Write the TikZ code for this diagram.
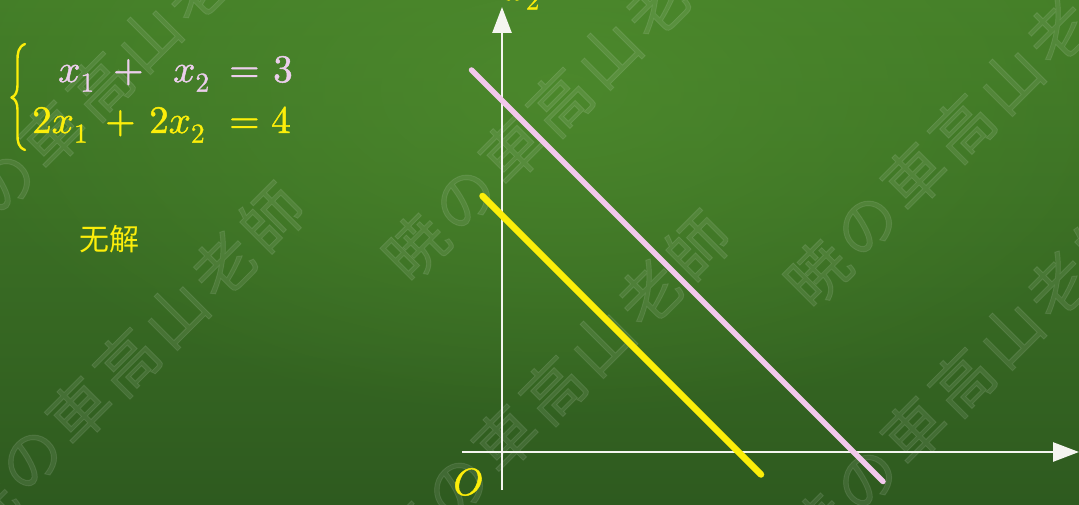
\documentclass[tikz,border=0pt]{standalone}
\usepackage{fontspec}
\usepackage{unicode-math}
\setmathfont{latinmodern-math.otf}[FakeBold=1.2]
\usetikzlibrary{arrows.meta,fadings}
\newfontfamily\cjkfont{Noto Sans CJK SC}
\newfontfamily\wmfont{Noto Sans CJK JP}[LetterSpace=10,FakeBold=1.5]
\definecolor{bgtop}{RGB}{68,126,40}
\definecolor{bgbot}{RGB}{46,90,31}
\definecolor{glow}{RGB}{80,142,46}
\definecolor{axiswhite}{RGB}{245,245,240}
\definecolor{pinkline}{RGB}{242,200,236}
\definecolor{pinktext}{RGB}{236,206,236}
\definecolor{chalkyellow}{RGB}{252,238,10}
\tikzfading[name=softglow, inner color=transparent!0, outer color=transparent!100]
\begin{document}
\begin{tikzpicture}[x=1pt,y=-1pt,
  axis/.style={draw=axiswhite, line width=2.7pt, -{Triangle[length=26pt,width=19pt]}},
  plotA/.style={draw=pinkline, line width=5.5pt, line cap=round},
  plotB/.style={draw=chalkyellow, line width=6.5pt, line cap=round},
  eqrow1/.style={anchor=base west, inner sep=0, text=pinktext, font=\fontsize{39}{39}\selectfont},
  eqrow2/.style={anchor=base west, inner sep=0, text=chalkyellow, font=\fontsize{39}{39}\selectfont},
  lab/.style={inner sep=0, text=chalkyellow, font=\fontsize{38}{38}\selectfont},
  cn/.style={inner sep=0, text=chalkyellow, font=\cjkfont\fontsize{30}{30}\selectfont},
  wm/.style={inner sep=0, text=white, opacity=0.09, rotate=45, font=\wmfont\fontsize{62}{62}\selectfont}]
\useasboundingbox (0,0) rectangle (1079,505);
% background
\fill[top color=bgtop, bottom color=bgbot] (0,0) rectangle (1079,505);
\fill[glow, path fading=softglow, fill opacity=0.7] (560,90) ellipse (620 and 330);
% watermark
\node[wm] (wmA) at (962,128) {暁の車高山老師};
\node[wm] (wmB) at (962,382) {暁の車高山老師};
\node[wm] (wmC) at (560,102) {暁の車高山老師};
\node[wm] (wmD) at (553,390) {暁の車高山老師};
\node[wm] (wmE) at (100,86) {暁の車高山老師};
\node[wm] (wmF) at (127,362) {暁の車高山老師};
% axes
\coordinate (O) at (502,452);
\coordinate (ytop) at (502,7);
\coordinate (ybot) at (502,490);
\coordinate (xleft) at (462,452);
\coordinate (xright) at (1079,452);
\draw[axis] (ybot) -- (ytop);
\draw[axis] (xleft) -- (xright);
% lines
\coordinate (p1) at (471.5,70);
\coordinate (p2) at (883,481.5);
\coordinate (q1) at (482.5,196);
\coordinate (q2) at (761,474.5);
\draw[plotA] (p1) -- (p2);
\draw[plotB] (q1) -- (q2);
% labels
\node[lab, anchor=base west] (ylab) at (504,0) {$x_2$};
\node[lab] (olab) at (468,482) {$O$};
\node[cn] (nojie) at (109,239) {无解};
% brace
\draw[chalkyellow, line width=2.4pt, line cap=round, line join=round]
  (25,44) .. controls (18,47) and (17.5,53) .. (17.5,61) -- (17.5,85)
  .. controls (17.5,92) and (15.5,96) .. (11.5,97.5)
  .. controls (15.5,99) and (17.5,103) .. (17.5,110) -- (17.5,134)
  .. controls (17.5,142) and (18,147) .. (25,150);
% equations row 1
\node[eqrow1] (r1a) at (58,82) {$x_1$};
\node[eqrow1] (r1b) at (113,82) {$+$};
\node[eqrow1] (r1c) at (173,82) {$x_2$};
\node[eqrow1] (r1d) at (229,82) {$=$};
\node[eqrow1] (r1e) at (273,82) {$3$};
% equations row 2
\node[eqrow2] (r2a) at (32,133) {$2x_1$};
\node[eqrow2] (r2b) at (105,133) {$+$};
\node[eqrow2] (r2c) at (149,133) {$2x_2$};
\node[eqrow2] (r2d) at (229,133) {$=$};
\node[eqrow2] (r2e) at (271,133) {$4$};
\end{tikzpicture}
\end{document}
